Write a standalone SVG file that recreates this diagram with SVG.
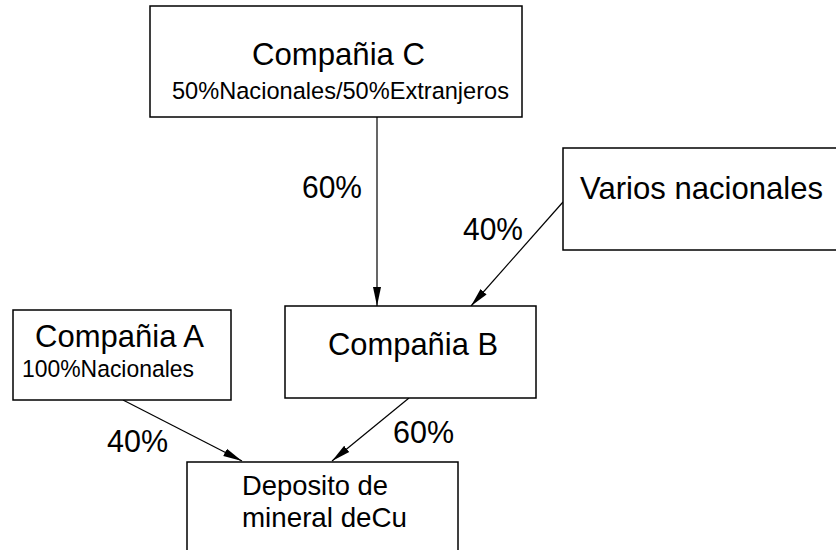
<svg xmlns="http://www.w3.org/2000/svg" width="836" height="550" viewBox="0 0 836 550">
<defs>
<style>
.box{fill:#fff;stroke:#000;stroke-width:1.5}
.t{font-family:"Liberation Sans",Arial,sans-serif;fill:#000}
.big{font-size:31.5px}
.sub{font-size:24.5px}
.dep{font-size:28px}
.pct{font-size:31px}
.edge{stroke:#000;stroke-width:1.2;fill:none;marker-end:url(#ah)}
</style>
<marker id="ah" markerUnits="userSpaceOnUse" markerWidth="20" markerHeight="11" refX="19" refY="5.5" orient="auto">
<path d="M0,1.5 L19,5.5 L0,9.5 Z" fill="#000"/>
</marker>
</defs>
<rect width="836" height="550" fill="#fff"/>
<g id="connectors">
<line class="edge" x1="377" y1="117" x2="377" y2="306"/>
<line class="edge" x1="563" y1="202" x2="471" y2="306"/>
<line class="edge" x1="123" y1="400" x2="242" y2="461"/>
<line class="edge" x1="409" y1="398" x2="332" y2="461"/>
<text class="t pct" x="302" y="198" textLength="60" lengthAdjust="spacingAndGlyphs">60%</text>
<text class="t pct" x="463" y="240" textLength="60" lengthAdjust="spacingAndGlyphs">40%</text>
<text class="t pct" x="107" y="452" textLength="61" lengthAdjust="spacingAndGlyphs">40%</text>
<text class="t pct" x="393" y="443" textLength="61" lengthAdjust="spacingAndGlyphs">60%</text>
</g>
<g id="compania-c">
<rect class="box" x="150" y="6" width="372" height="111"/>
<text class="t big" x="252" y="65" textLength="173" lengthAdjust="spacingAndGlyphs">Compañia C</text>
<text class="t sub" x="172" y="99" textLength="337" lengthAdjust="spacingAndGlyphs">50%Nacionales/50%Extranjeros</text>
</g>
<g id="varios-nacionales">
<rect class="box" x="563" y="148" width="290" height="102"/>
<text class="t big" x="580" y="199" textLength="243" lengthAdjust="spacingAndGlyphs">Varios nacionales</text>
</g>
<g id="compania-a">
<rect class="box" x="13" y="310" width="218" height="90"/>
<text class="t big" x="35" y="347" textLength="169" lengthAdjust="spacingAndGlyphs">Compañia A</text>
<text class="t sub" x="22" y="377" textLength="172" lengthAdjust="spacingAndGlyphs">100%Nacionales</text>
</g>
<g id="compania-b">
<rect class="box" x="285" y="306" width="251" height="92"/>
<text class="t big" x="328" y="355" textLength="170" lengthAdjust="spacingAndGlyphs">Compañia B</text>
</g>
<g id="deposito">
<rect class="box" x="187" y="462" width="271" height="100"/>
<text class="t dep" x="242" y="495" textLength="146" lengthAdjust="spacingAndGlyphs">Deposito de</text>
<text class="t dep" x="242" y="527" textLength="165" lengthAdjust="spacingAndGlyphs">mineral deCu</text>
</g>
</svg>
